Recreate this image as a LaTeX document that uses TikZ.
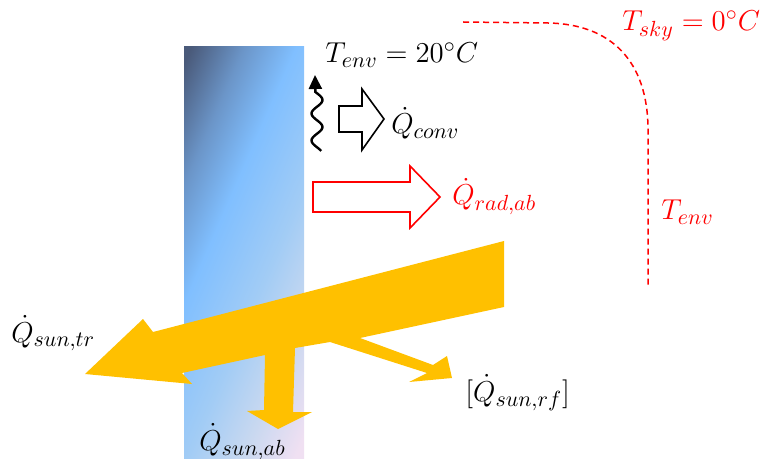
\documentclass[tikz,border=0pt]{standalone}
\usepackage{amsmath}
\usepackage{xcolor}
\usepackage{tikz}
\usetikzlibrary{arrows.meta, calc}
\definecolor{slabdark}{RGB}{74,90,122}
\definecolor{slabmid}{RGB}{107,149,200}
\definecolor{slabblue}{RGB}{128,191,255}
\definecolor{slabpale}{RGB}{162,204,245}
\definecolor{slablilac}{RGB}{200,216,240}
\definecolor{slabpink}{RGB}{240,224,242}
\definecolor{suncolor}{RGB}{255,192,0}
\definecolor{radcolor}{RGB}{255,0,0}
% the fitted box spans 25bp..75bp
\pgfdeclarehorizontalshading{slabshade}{100bp}{color(0bp)=(slabdark); color(28.2bp)=(slabdark); color(36.3bp)=(slabmid); color(44.2bp)=(slabblue); color(55bp)=(slabpale); color(63.3bp)=(slablilac); color(71.5bp)=(slabpink); color(100bp)=(slabpink)}

\begin{document}
\begin{tikzpicture}[
    x=0.5pt, y=-0.5pt,
    lbl/.style={font=\fontsize{15.5}{18}\selectfont, inner sep=0pt, anchor=base west},
    redlbl/.style={lbl, text=radcolor},
    blockarrow/.style={fill=white, line width=0.8pt, line join=miter},
    sunarrow/.style={fill=suncolor, draw=none},
    wave/.style={line width=1.2pt, -{Triangle[length=7pt, width=6.5pt]}},
    skyline/.style={draw=radcolor, line width=0.75pt, dash pattern=on 3pt off 2pt}
]
\useasboundingbox (0,0) rectangle (774,459);

%% SLAB %%
\coordinate (slab_nw) at (184,47);
\coordinate (slab_se) at (304,459);
\coordinate (slab_c) at (244,253);
\begin{scope}
    \clip (slab_nw) rectangle (slab_se);
    \begin{scope}[transform canvas={rotate around={-23.6:(slab_c)}}]
        \shade [shading=slabshade] ($(slab_c)+(-150,-240)$) rectangle ($(slab_c)+(150,240)$);
    \end{scope}
\end{scope}

%% CONVECTION %%
\coordinate (wavetip) at (315,75);
\draw [wave] plot[smooth, domain=151:92, samples=40] ({317+5.5*sin(13.333*(\x-93.25))}, \x) -- (wavetip);

\draw [blockarrow, draw=black] (339,106) -- (362,106) -- (362,89) -- (384,119)
    -- (362,150) -- (362,132) -- (339,132) -- cycle;

%% RADIATION %%
\draw [blockarrow, draw=radcolor] (313,182) -- (410,182) -- (410,166) -- (440,197)
    -- (410,228) -- (410,212) -- (313,212) -- cycle;

%% SKY / ENVIRONMENT BOUNDARY %%
\coordinate (sky_start) at (463,22);
\coordinate (sky_bend) at (548,23);
\coordinate (env_top) at (648,130);
\coordinate (env_end) at (648,288);
\draw [skyline] (sky_start) -- (sky_bend) .. controls (610,24) and (648,60) .. (env_top) -- (env_end);

%% SUN ARROWS %%
\fill [sunarrow] (504,241) -- (504,307)
    % reflected part
    -- (360,338) -- (433,365) -- (447,356) -- (452,378) -- (409,382) -- (427,373) -- (330,342)
    % absorbed part
    -- (295,348) -- (293,412) -- (312,412) -- (278,429) -- (247,411) -- (264,410) -- (265,355)
    % transmitted part
    -- (182,373) -- (192,384) -- (85,374) -- (143,319) -- (153,332) -- cycle;

%% LABELS %%
\node (tenv) [lbl] at (325,63) {$T_{env} = 20^\circ C$};
\node (qconv) [lbl] at (391,134) {$\dot{Q}_{conv}$};
\node (qrad) [redlbl] at (452,205) {$\dot{Q}_{rad,ab}$};
\node (tsky) [redlbl] at (622,31) {$T_{sky} = 0^\circ C$};
\node (tenvsky) [redlbl] at (661,220) {$T_{env}$};
\node (qtr) [lbl] at (11,342) {$\dot{Q}_{sun,tr}$};
\node (qab) [lbl] at (199,450) {$\dot{Q}_{sun,ab}$};
\node (qrf) [lbl] at (465,401) {$[\dot{Q}_{sun,rf}]$};

\end{tikzpicture}
\end{document}
